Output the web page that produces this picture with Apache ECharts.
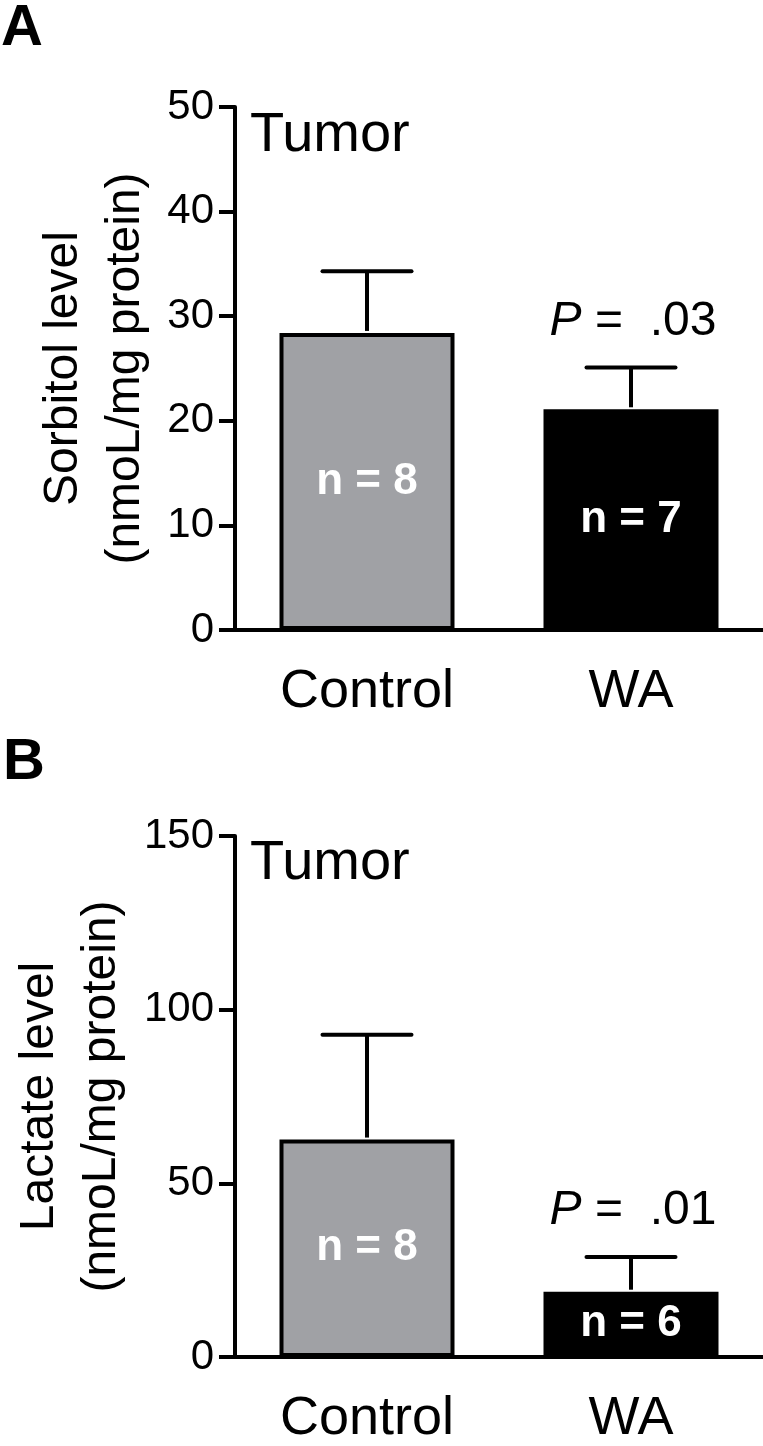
<!DOCTYPE html>
<html><head><meta charset="utf-8">
<script src="https://cdn.jsdelivr.net/npm/echarts@6/dist/echarts.min.js"></script>
<style>html,body{margin:0;padding:0;background:#fff}#c{width:763px;height:1446px}</style>
</head><body><div id="c"></div>
<script>
const categories = ['Control', 'WA'];
const sorbitolMean = [28.4, 21.1];
const sorbitolErrTop = [34.3, 25.1];
const sorbitolN = [8, 7];
const lactateMean = [62.6, 18.8];
const lactateErrTop = [92.8, 28.8];
const lactateN = [8, 6];
const sorbitolAxis = { min: 0, max: 50, interval: 10 };
const lactateAxis = { min: 0, max: 150, interval: 50 };
const pValues = ['', '.03'];
const pValuesB = ['', '.01'];
const barColors = ['#a0a1a5', '#000000'];

const FONT = "'Liberation Sans', Arial, Helvetica, sans-serif";

function barSeries(idx, means, ns) {
  return {
    type: 'bar', xAxisIndex: idx, yAxisIndex: idx, barWidth: 175, z: 2,
    data: means.map((v, i) => ({ value: v, itemStyle: { color: barColors[i], borderColor: '#000', borderWidth: 4 } })),
    label: {
      show: true, position: 'inside', color: '#fff', fontWeight: 'bold', fontSize: 44, fontFamily: FONT,
      formatter: p => 'n = ' + ns[p.dataIndex]
    }
  };
}

function errSeries(idx, means, tops, ps) {
  return {
    type: 'custom', xAxisIndex: idx, yAxisIndex: idx, z: 3,
    data: means.map((m, i) => [i, m, tops[i]]),
    encode: { x: 0, y: 2 },
    renderItem: function (params, api) {
      const i = api.value(0);
      const base = api.coord([i, api.value(1)]);
      const top = api.coord([i, api.value(2)]);
      const half = 44.5;
      const children = [
        { type: 'line', shape: { x1: base[0], y1: base[1] - 2, x2: top[0], y2: top[1] }, style: { stroke: '#000', lineWidth: 4 } },
        { type: 'line', shape: { x1: top[0] - half, y1: top[1], x2: top[0] + half, y2: top[1] }, style: { stroke: '#000', lineWidth: 4, lineCap: 'round' } }
      ];
      if (ps[i]) {
        children.push({
          type: 'text', x: top[0] + 2, y: top[1] - 22,
          style: {
            text: '{i|P}{r| =  ' + ps[i] + '}', align: 'center', verticalAlign: 'bottom',
            rich: {
              i: { fontStyle: 'italic', fontSize: 48, fontFamily: FONT, fill: '#000' },
              r: { fontSize: 48, fontFamily: FONT, fill: '#000' }
            }
          }
        });
      }
      return { type: 'group', children: children };
    }
  };
}

function xAxis(idx) {
  return {
    type: 'category', gridIndex: idx, data: categories,
    axisLine: { lineStyle: { color: '#000', width: 4 } },
    axisTick: { show: false },
    axisLabel: { color: '#000', fontSize: 54, fontFamily: FONT, margin: 35 }
  };
}

function yAxis(idx, ax, name, gap) {
  return {
    type: 'value', gridIndex: idx, min: ax.min, max: ax.max, interval: ax.interval,
    name: name, nameLocation: 'middle', nameRotate: 90, nameGap: gap,
    nameTextStyle: { color: '#000', fontSize: 48, lineHeight: 62, fontFamily: FONT },
    splitLine: { show: false },
    axisLine: { show: true, lineStyle: { color: '#000', width: 4 } },
    axisTick: { show: true, length: 16, lineStyle: { color: '#000', width: 4 } },
    axisLabel: { color: '#000', fontSize: 42, fontFamily: FONT, margin: 21 }
  };
}

const chart = echarts.init(document.getElementById('c'));
chart.setOption({
  backgroundColor: '#fff',
  animation: false,
  grid: [
    { left: 235, top: 107, width: 528, height: 523 },
    { left: 235, top: 836, width: 528, height: 525 }
  ],
  xAxis: [xAxis(0), xAxis(1)],
  yAxis: [
    yAxis(0, sorbitolAxis, 'Sorbitol level\n(nmoL/mg protein)', 72),
    yAxis(1, lactateAxis, 'Lactate level\n(nmoL/mg protein)', 88)
  ],
  graphic: [
    { type: 'text', left: 1, top: 0, style: { text: 'A', font: 'bold 58px ' + FONT, fill: '#000' } },
    { type: 'text', left: 3, top: 734, style: { text: 'B', font: 'bold 58px ' + FONT, fill: '#000' } },
    { type: 'text', left: 250, top: 108, style: { text: 'Tumor', font: '56px ' + FONT, fill: '#000' } },
    { type: 'text', left: 250, top: 836, style: { text: 'Tumor', font: '56px ' + FONT, fill: '#000' } }
  ],
  series: [
    barSeries(0, sorbitolMean, sorbitolN),
    errSeries(0, sorbitolMean, sorbitolErrTop, pValues),
    barSeries(1, lactateMean, lactateN),
    errSeries(1, lactateMean, lactateErrTop, pValuesB)
  ]
});
</script>
</body></html>
